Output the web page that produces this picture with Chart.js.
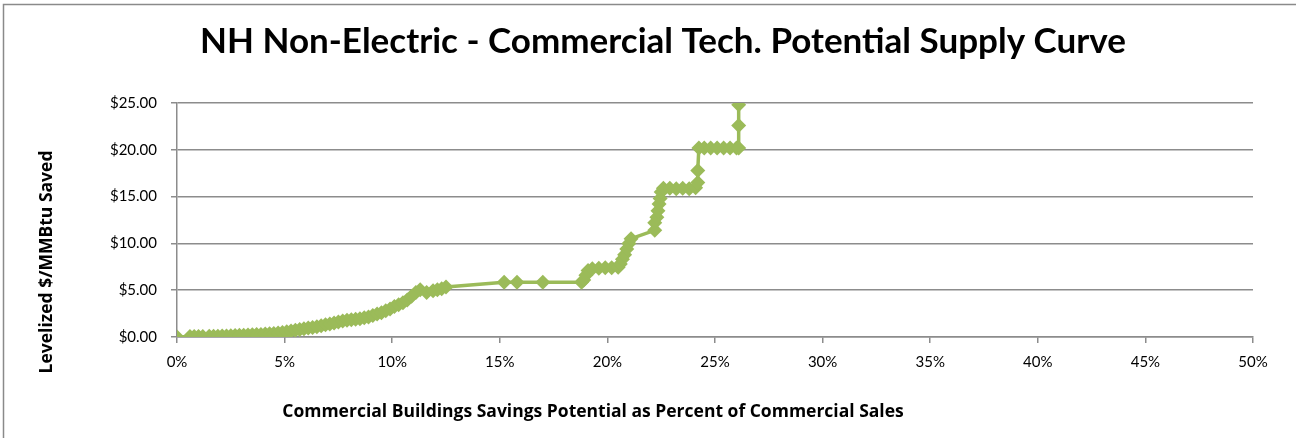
<!DOCTYPE html>
<html>
<head>
<meta charset="utf-8">
<script src="https://cdn.jsdelivr.net/npm/chart.js@4/dist/chart.umd.min.js"></script>
<style>
  html, body { margin: 0; padding: 0; background: #fff; }
  #wrap { width: 1296px; height: 438px; }
</style>
</head>
<body>
<div id="wrap"><canvas id="supplyChart" width="1296" height="438"></canvas></div>
<script>
// Savings potential (% of commercial sales) and levelized cost ($/MMBtu)
const pctSaved = [
  0, 0.6, 0.8, 1.0, 1.2, 1.5, 1.7, 1.9, 2.1, 2.3, 2.5, 2.7, 2.9, 3.1, 3.3, 3.5,
  3.7, 3.9, 4.1, 4.3, 4.5, 4.7, 4.9, 5.1, 5.3, 5.5, 5.7, 5.9, 6.1, 6.3, 6.5, 6.7,
  6.9, 7.1, 7.3, 7.5, 7.7, 7.9, 8.1, 8.3, 8.5, 8.7, 8.9, 9.1, 9.3, 9.5, 9.7, 9.9,
  10.1, 10.3, 10.5, 10.7, 10.9, 11.1, 11.3, 11.6, 11.9, 12.1, 12.3, 12.5,
  15.2, 15.8, 17.0, 18.8, 18.9, 19.0, 19.1, 19.3, 19.6, 19.9, 20.2, 20.5,
  20.6, 20.7, 20.8, 20.9, 21.0, 21.1, 22.2, 22.2, 22.3, 22.35, 22.4, 22.45, 22.5,
  22.6, 22.9, 23.2, 23.5, 23.8, 24.1, 24.2, 24.2, 24.25, 24.5, 24.8, 25.1, 25.4,
  25.7, 26.0, 26.1, 26.1, 26.1
];
const costPerMMBtu = [
  0, 0.05, 0.05, 0.06, 0.06, 0.07, 0.08, 0.09, 0.1, 0.12, 0.14, 0.16, 0.18, 0.2, 0.22, 0.24,
  0.26, 0.28, 0.31, 0.34, 0.38, 0.42, 0.48, 0.55, 0.63, 0.72, 0.8, 0.88, 0.95, 1.02, 1.1, 1.2,
  1.3, 1.4, 1.5, 1.6, 1.7, 1.8, 1.85, 1.9, 1.95, 2.05, 2.15, 2.3, 2.45, 2.6, 2.8, 3.0,
  3.25, 3.45, 3.65, 3.95, 4.35, 4.75, 5.05, 4.75, 4.95, 5.05, 5.15, 5.35,
  5.85, 5.85, 5.85, 5.85, 6.1, 6.6, 7.1, 7.3, 7.35, 7.4, 7.4, 7.45,
  7.8, 8.3, 8.8, 9.4, 10.0, 10.5, 11.4, 12.2, 12.8, 13.5, 14.2, 14.8, 15.5,
  15.9, 15.9, 15.85, 15.9, 15.85, 15.95, 16.5, 17.8, 20.2, 20.2, 20.2, 20.2, 20.2,
  20.2, 20.2, 20.2, 22.6, 24.8
];
const yTicks = [0, 5, 10, 15, 20, 25];
const xTicks = [0, 5, 10, 15, 20, 25, 30, 35, 40, 45, 50];

const green = "#9BBB59";
const gridGray = "#8c8c8c";
const textFont = "Lato, 'Open Sans', sans-serif";
const labelFont = "'Open Sans', Lato, sans-serif";

const points = pctSaved.map((p, i) => ({ x: p, y: costPerMMBtu[i] }));

// titles + outer frame
const decorations = {
  id: "decorations",
  afterDraw(chart) {
    const ctx = chart.ctx;
    ctx.save();
    // frame (top and left edges visible)
    ctx.strokeStyle = "#8a8a8a";
    ctx.lineWidth = 1.5;
    ctx.beginPath();
    ctx.moveTo(3.5, 440);
    ctx.lineTo(3.5, 4.5);
    ctx.lineTo(1296, 4.5);
    ctx.stroke();

    ctx.fillStyle = "#000";
    ctx.textAlign = "center";
    ctx.textBaseline = "middle";
    ctx.font = "bold 35px " + textFont;
    ctx.fillText("NH Non-Electric - Commercial Tech. Potential Supply Curve", 663, 42);

    ctx.font = "bold 17.5px " + labelFont;
    ctx.fillText("Commercial Buildings Savings Potential as Percent of Commercial Sales", 593, 412);

    ctx.translate(47, 262);
    ctx.rotate(-Math.PI / 2);
    ctx.fillText("Levelized $/MMBtu Saved", 0, 0);
    ctx.restore();
  }
};

new Chart(document.getElementById("supplyChart"), {
  type: "scatter",
  data: {
    datasets: [{
      data: points,
      showLine: true,
      borderColor: green,
      backgroundColor: green,
      borderWidth: 3.5,
      pointStyle: "rectRot",
      pointRadius: 7.5,
      pointHoverRadius: 7.5,
      pointBorderWidth: 0
    }]
  },
  options: {
    responsive: false,
    animation: false,
    layout: { padding: { top: 103, right: 43, left: 0, bottom: 0 } },
    plugins: {
      legend: { display: false },
      tooltip: { enabled: false }
    },
    scales: {
      x: {
        type: "linear",
        min: 0,
        max: 50,
        afterFit(scale) { scale.height = 101; },
        afterBuildTicks(scale) { scale.ticks = xTicks.map(v => ({ value: v })); },
        ticks: {
          color: "#000",
          padding: 10,
          font: { family: textFont, size: 15 },
          callback: v => v + "%"
        },
        grid: {
          drawOnChartArea: false,
          drawTicks: true,
          tickLength: 6,
          color: gridGray,
          lineWidth: 1.5
        },
        border: { color: gridGray, width: 1.5 }
      },
      y: {
        min: 0,
        max: 25,
        afterFit(scale) { scale.width = 177; },
        afterBuildTicks(scale) { scale.ticks = yTicks.map(v => ({ value: v })); },
        ticks: {
          color: "#000",
          padding: 14,
          font: { family: textFont, size: 15 },
          callback: v => "$" + v.toFixed(2)
        },
        grid: {
          color: gridGray,
          lineWidth: 1.5,
          tickLength: 6
        },
        border: { color: gridGray, width: 1.5 }
      }
    }
  },
  plugins: [decorations]
});
</script>
</body>
</html>
